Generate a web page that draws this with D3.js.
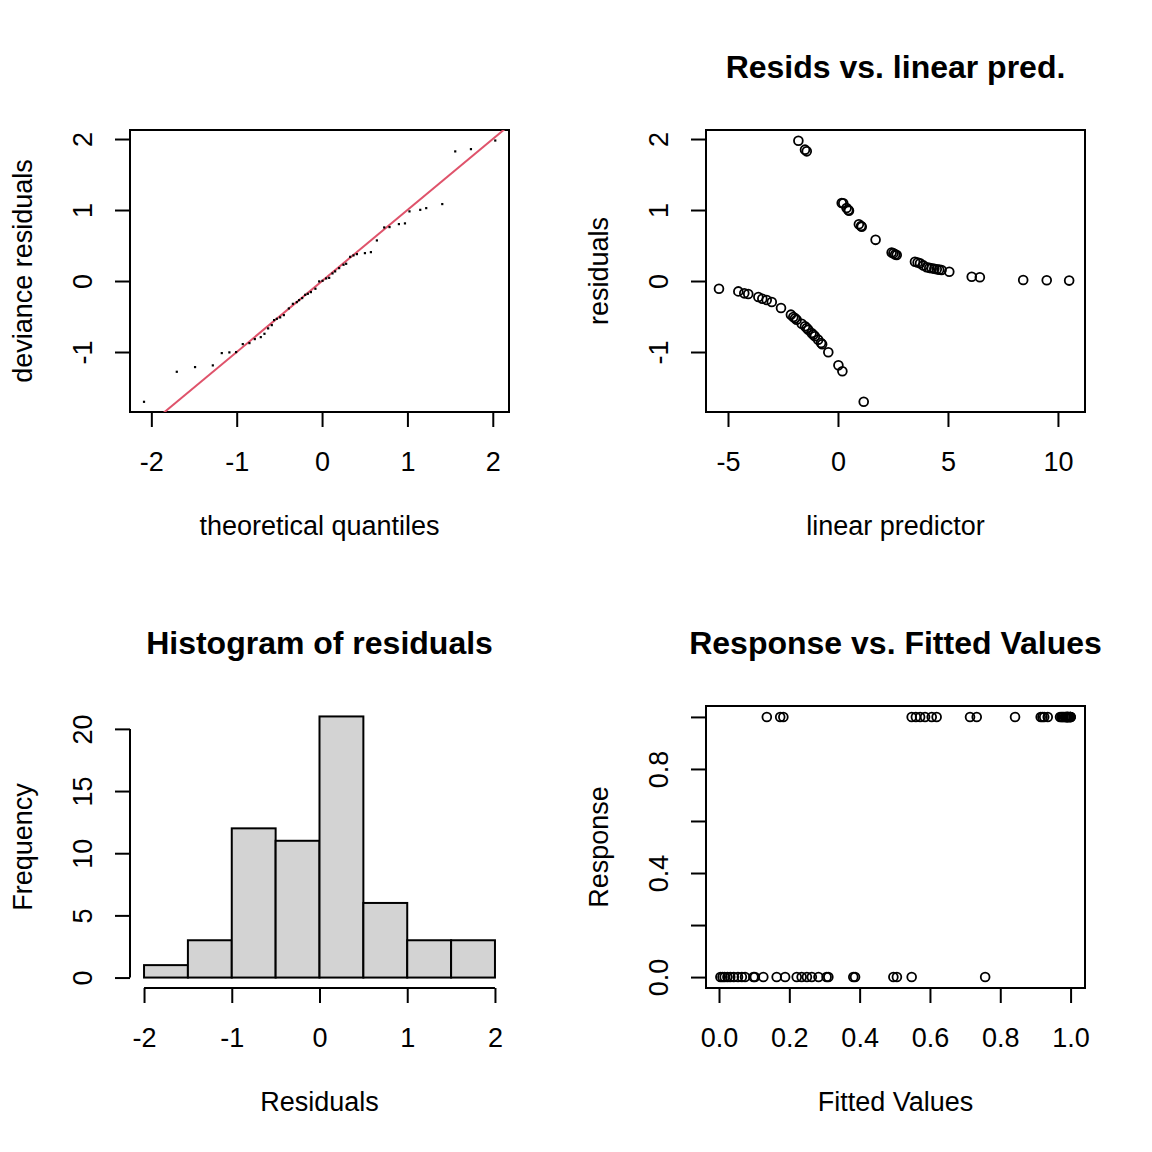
<!DOCTYPE html>
<html>
<head>
<meta charset="utf-8">
<script src="https://cdn.jsdelivr.net/npm/d3@7"></script>
<style>
  body { margin: 0; background: #fff; }
  svg { font-family: "Liberation Sans", Arial, sans-serif; }
</style>
</head>
<body>
<div id="chart"></div>
<script>
// ---- data ----
// panel 1: QQ plot of deviance residuals
var qqTheoretical = [-2.087, -1.703, -1.489, -1.281, -1.176, -1.087, -1.008, -0.930, -0.852, -0.789,
  -0.719, -0.676, -0.633, -0.590, -0.563, -0.531, -0.492, -0.449, -0.390, -0.343,
  -0.297, -0.270, -0.234, -0.199, -0.168, -0.132, -0.079, -0.035, 0.004, 0.047,
  0.082, 0.121, 0.152, 0.199, 0.250, 0.281, 0.328, 0.367, 0.407, 0.501,
  0.571, 0.641, 0.727, 0.789, 0.899, 0.970, 1.023, 1.149, 1.219, 1.407,
  1.559, 1.743, 2.028];
var qqResiduals = [-1.700, -1.277, -1.211, -1.187, -1.014, -1.004, -1.000, -0.887, -0.873, -0.817,
  -0.789, -0.742, -0.666, -0.620, -0.549, -0.531, -0.511, -0.479, -0.385, -0.320,
  -0.296, -0.268, -0.239, -0.193, -0.179, -0.155, -0.108, -0.004, 0.004, 0.038,
  0.046, 0.108, 0.137, 0.183, 0.230, 0.244, 0.342, 0.362, 0.380, 0.394,
  0.408, 0.573, 0.756, 0.761, 0.803, 0.813, 0.982, 1.004, 1.028, 1.085,
  1.827, 1.859, 1.980];
var qqRefIntercept = 0, qqRefSlope = 1;

// panel 2: residuals vs linear predictor
var linearPred = [-5.41, -4.53, -4.26, -4.08, -3.62, -3.44, -3.24, -3.01, -2.59, -2.14,
  -2.03, -1.95, -1.88, -1.65, -1.50, -1.42, -1.35, -1.20, -1.12, -1.05,
  -0.90, -0.77, -0.72, -0.44, 0.02, 0.20, 1.17,
  -1.80, -1.50, -1.42, 0.17, 0.24, 0.39, 0.47, 0.50, 0.95, 1.05,
  1.08, 1.71, 2.44, 2.52, 2.60, 2.67, 3.50, 3.62, 3.73, 3.88,
  4.03, 4.15, 4.26, 4.38, 4.49, 4.60, 4.71, 5.06, 6.08, 6.45,
  8.42, 9.49, 10.51];
var linearResid = [-0.108, -0.146, -0.174, -0.183, -0.225, -0.249, -0.268, -0.296, -0.380, -0.474,
  -0.507, -0.525, -0.545, -0.601, -0.638, -0.662, -0.686, -0.732, -0.756, -0.779,
  -0.826, -0.873, -0.890, -1.004, -1.188, -1.272, -1.700,
  1.976, 1.850, 1.826, 1.099, 1.094, 1.028, 1.000, 0.990, 0.800, 0.775,
  0.765, 0.580, 0.400, 0.390, 0.375, 0.366, 0.272, 0.260, 0.249, 0.220,
  0.193, 0.185, 0.179, 0.172, 0.165, 0.160, 0.155, 0.131, 0.061, 0.052,
  0.014, 0.010, 0.006];

// panel 3: histogram of residuals
var histBreaks = [-2, -1.5, -1, -0.5, 0, 0.5, 1, 1.5, 2];
var histCounts = [1, 3, 12, 11, 21, 6, 3, 3];

// panel 4: response vs fitted values
var fittedValues = [0.004, 0.010, 0.016, 0.024, 0.032, 0.042, 0.054, 0.065, 0.074, 0.098,
  0.102, 0.126, 0.164, 0.188, 0.221, 0.235, 0.250, 0.264, 0.283, 0.306,
  0.311, 0.382, 0.387, 0.496, 0.506, 0.548, 0.757,
  0.136, 0.174, 0.183, 0.548, 0.560, 0.572, 0.586, 0.605, 0.619, 0.714,
  0.733, 0.842, 0.915, 0.920, 0.925, 0.935, 0.970, 0.974, 0.977, 0.980,
  0.984, 0.986, 0.988, 0.989, 0.990, 0.991, 0.992, 0.993, 0.995, 0.998,
  0.9998, 0.99993, 0.99997];
var responseValues = [0, 0, 0, 0, 0, 0, 0, 0, 0, 0,
  0, 0, 0, 0, 0, 0, 0, 0, 0, 0,
  0, 0, 0, 0, 0, 0, 0,
  1, 1, 1, 1, 1, 1, 1, 1, 1, 1,
  1, 1, 1, 1, 1, 1, 1, 1, 1, 1,
  1, 1, 1, 1, 1, 1, 1, 1, 1, 1,
  1, 1, 1];

// ---- layout ----
var W = 1152, H = 1152;
var FONT = 27, TITLE_FONT = 32, LW = 2, TICK = 15;
var cols = [130, 706], rows = [130, 706], pw = 379, ph = 282;

var svg = d3.select('#chart').append('svg')
  .attr('width', W).attr('height', H);
svg.append('rect').attr('width', W).attr('height', H).attr('fill', '#fff');

function fmt(d) { return String(d); }

// 生成一个面板：坐标比例尺、坐标轴、文字
function panel(opt) {
  var g = svg.append('g')
    .attr('transform', 'translate(' + opt.left + ',' + opt.top + ')');
  var x = d3.scaleLinear().domain(opt.xDomain).range([0, pw]);
  var y = d3.scaleLinear().domain(opt.yDomain).range([ph, 0]);

  g.append('clipPath').attr('id', opt.id + '-clip')
    .append('rect').attr('width', pw).attr('height', ph);

  var xTicks = opt.xTicks, yTicks = opt.yTicks;

  // x axis
  var xa = g.append('g')
    .attr('transform', 'translate(0,' + ph + ')')
    .call(d3.axisBottom(x).tickValues(xTicks).tickSize(TICK).tickPadding(25)
      .tickFormat(opt.xFormat || fmt));
  xa.select('.domain').remove();
  xa.append('line')
    .attr('x1', x(xTicks[0])).attr('x2', x(xTicks[xTicks.length - 1]))
    .attr('stroke', '#000').attr('stroke-width', LW);

  // y axis
  var ya = g.append('g')
    .call(d3.axisLeft(y).tickValues(yTicks).tickSize(TICK)
      .tickFormat(opt.yFormat || fmt));
  ya.select('.domain').remove();
  ya.append('line')
    .attr('y1', y(yTicks[0])).attr('y2', y(yTicks[yTicks.length - 1]))
    .attr('stroke', '#000').attr('stroke-width', LW);
  ya.selectAll('.tick text')
    .attr('x', 0).attr('dy', 0)
    .attr('text-anchor', 'middle')
    .attr('transform', 'translate(-38,0) rotate(-90)');

  [xa, ya].forEach(function (a) {
    a.selectAll('.tick line').attr('stroke', '#000').attr('stroke-width', LW);
    a.selectAll('.tick text').attr('fill', '#000')
      .style('font-size', FONT + 'px')
      .style('font-family', '"Liberation Sans", Arial, sans-serif');
  });

  if (opt.box) {
    g.append('rect')
      .attr('width', pw).attr('height', ph)
      .attr('fill', 'none').attr('stroke', '#000').attr('stroke-width', LW);
  }

  // axis titles
  g.append('text')
    .attr('x', pw / 2).attr('y', ph + 123)
    .attr('text-anchor', 'middle')
    .style('font-size', FONT + 'px')
    .text(opt.xLabel);
  g.append('text')
    .attr('transform', 'translate(-98,' + ph / 2 + ') rotate(-90)')
    .attr('text-anchor', 'middle')
    .style('font-size', FONT + 'px')
    .text(opt.yLabel);
  if (opt.title) {
    g.append('text')
      .attr('x', pw / 2).attr('y', -52)
      .attr('text-anchor', 'middle')
      .style('font-size', TITLE_FONT + 'px')
      .style('font-weight', 'bold')
      .text(opt.title);
  }

  var plot = g.append('g').attr('clip-path', 'url(#' + opt.id + '-clip)');
  return { g: g, plot: plot, x: x, y: y };
}

// panel 1: QQ plot
var p1 = panel({
  id: 'p1', left: cols[0], top: rows[0], box: true,
  xDomain: [-2.25, 2.19], yDomain: [-1.845, 2.127],
  xTicks: [-2, -1, 0, 1, 2], yTicks: [-1, 0, 1, 2],
  xLabel: 'theoretical quantiles', yLabel: 'deviance residuals'
});
var qxd = p1.x.domain();
p1.plot.append('line')
  .attr('x1', p1.x(qxd[0])).attr('y1', p1.y(qqRefIntercept + qqRefSlope * qxd[0]))
  .attr('x2', p1.x(qxd[1])).attr('y2', p1.y(qqRefIntercept + qqRefSlope * qxd[1]))
  .attr('stroke', '#DF536B').attr('stroke-width', 2);
p1.plot.selectAll('rect.pt')
  .data(qqTheoretical)
  .enter()
  .append('rect')
  .attr('class', 'pt')
  .attr('x', function (d) { return p1.x(d) - 1; })
  .attr('y', function (d, i) { return p1.y(qqResiduals[i]) - 1; })
  .attr('width', 2.2).attr('height', 2.2)
  .attr('fill', '#000');

// panel 2: residuals vs linear predictor
var p2 = panel({
  id: 'p2', left: cols[1], top: rows[0], box: true,
  xDomain: [-6.0, 11.23], yDomain: [-1.845, 2.127],
  xTicks: [-5, 0, 5, 10], yTicks: [-1, 0, 1, 2],
  xLabel: 'linear predictor', yLabel: 'residuals',
  title: 'Resids vs. linear pred.'
});
p2.plot.selectAll('circle')
  .data(linearPred)
  .enter()
  .append('circle')
  .attr('cx', function (d) { return p2.x(d); })
  .attr('cy', function (d, i) { return p2.y(linearResid[i]); })
  .attr('r', 4.4)
  .attr('fill', 'none').attr('stroke', '#000').attr('stroke-width', 1.8);

// panel 3: histogram
var p3 = panel({
  id: 'p3', left: cols[0], top: rows[1], box: false,
  xDomain: [-2.16, 2.16], yDomain: [-0.84, 21.84],
  xTicks: [-2, -1, 0, 1, 2], yTicks: [0, 5, 10, 15, 20],
  xLabel: 'Residuals', yLabel: 'Frequency',
  title: 'Histogram of residuals'
});
p3.g.insert('g', ':first-child').selectAll('rect')
  .data(histCounts)
  .enter()
  .append('rect')
  .attr('x', function (d, i) { return p3.x(histBreaks[i]); })
  .attr('width', function (d, i) { return p3.x(histBreaks[i + 1]) - p3.x(histBreaks[i]); })
  .attr('y', function (d) { return p3.y(d); })
  .attr('height', function (d) { return p3.y(0) - p3.y(d); })
  .attr('fill', '#D3D3D3').attr('stroke', '#000').attr('stroke-width', LW);

// panel 4: response vs fitted
var p4 = panel({
  id: 'p4', left: cols[1], top: rows[1], box: true,
  xDomain: [-0.037, 1.041], yDomain: [-0.042, 1.042],
  xTicks: [0, 0.2, 0.4, 0.6, 0.8, 1.0], yTicks: [0, 0.2, 0.4, 0.6, 0.8, 1.0],
  xFormat: d3.format('.1f'),
  yFormat: function (d, i) { return i % 2 === 0 ? d3.format('.1f')(d) : ''; },
  xLabel: 'Fitted Values', yLabel: 'Response',
  title: 'Response vs. Fitted Values'
});
p4.plot.selectAll('circle')
  .data(fittedValues)
  .enter()
  .append('circle')
  .attr('cx', function (d) { return p4.x(d); })
  .attr('cy', function (d, i) { return p4.y(responseValues[i]); })
  .attr('r', 4.4)
  .attr('fill', 'none').attr('stroke', '#000').attr('stroke-width', 1.8);
</script>
</body>
</html>
